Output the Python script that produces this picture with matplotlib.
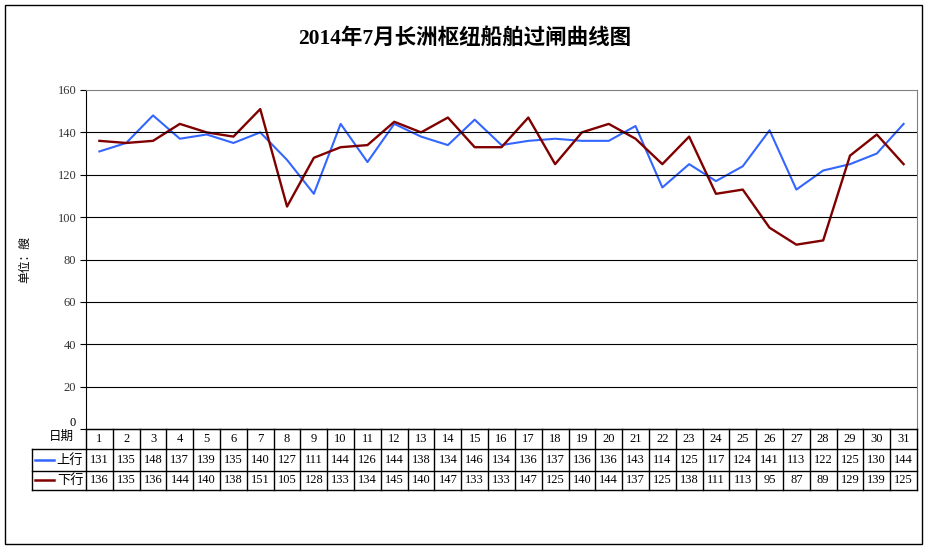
import numpy as np
import matplotlib.pyplot as plt

# data
days = list(range(1, 32))
up = [131, 135, 148, 137, 139, 135, 140, 127, 111, 144, 126, 144, 138, 134, 146, 134,
      136, 137, 136, 136, 143, 114, 125, 117, 124, 141, 113, 122, 125, 130, 144]
down = [136, 135, 136, 144, 140, 138, 151, 105, 128, 133, 134, 145, 140, 147, 133, 133,
        147, 125, 140, 144, 137, 125, 138, 111, 113, 95, 87, 89, 129, 139, 125]
series_names = ['上行', '下行']
colors = ['#3366FF', '#800000']

fonts = ['Liberation Serif', 'Noto Sans CJK SC']
plt.rcParams['font.family'] = fonts

W, H = 931, 550
fig = plt.figure(figsize=(W / 100, H / 100), dpi=100)

def fx(px):
    return px / W

def fy(py):
    return 1 - py / H

# outer border
fig.patches.append(plt.Rectangle((fx(5), fy(544)), fx(922) - fx(5), fy(5) - fy(544),
                                 transform=fig.transFigure, fill=False, lw=1.0, ec='black'))

# main plot
L, R, T, B = 86, 917, 90, 429
ax = fig.add_axes([fx(L), fy(B), fx(R) - fx(L), fy(T) - fy(B)])
x = np.array(days)
ax.plot(x, up, color=colors[0], lw=1.5)
ax.plot(x, down, color=colors[1], lw=1.7)
ax.set_xlim(0.5, 31.5)
ax.set_ylim(0, 160)
ax.set_yticks(range(0, 161, 20))
ax.set_yticklabels([''] + [str(v) for v in range(20, 161, 20)], fontsize=9, color='#333333')
ax.set_xticks([])
for v in range(20, 141, 20):
    ax.axhline(v, color='black', lw=0.8)
ax.spines['top'].set_color('#808080')
ax.spines['right'].set_color('#808080')
ax.spines['left'].set_color('black')
ax.spines['bottom'].set_color('black')
ax.tick_params(axis='y', direction='out', length=4, width=0.8, pad=3)
ax.text(-0.012, 0.0, '0', transform=ax.transAxes, ha='right', va='bottom', fontsize=9)

fig.text(fx(25), fy(260), '单位：艘', rotation=90, ha='center', va='center', fontsize=8.5)
fig.text(fx(465), fy(38), '2014年7月长洲枢纽船舶过闸曲线图', ha='center', va='center',
         fontsize=15.5, fontweight='bold')

# data table
rows = [429, 449, 471, 490]
tl = 32
tax = fig.add_axes([fx(L), fy(rows[-1]), fx(R) - fx(L), fy(rows[0]) - fy(rows[-1])])
tax.set_xlim(0.5, 31.5)
tax.set_ylim(rows[-1], rows[0])
tax.axis('off')
colw = (R - L) / 31
xleft = 0.5 - (L - tl) / colw
lk = dict(color='black', lw=1.0, clip_on=False)
# horizontal lines
tax.plot([0.5, 31.5], [rows[0], rows[0]], **lk)
for r in rows[1:]:
    tax.plot([xleft, 31.5], [r, r], **lk)
# vertical lines
for i in range(32):
    tax.plot([0.5 + i, 0.5 + i], [rows[0], rows[-1]], **lk)
tax.plot([xleft, xleft], [rows[1], rows[-1]], **lk)

for d in days:
    tax.text(d, (rows[0] + rows[1]) / 2, str(d), ha='center', va='center', fontsize=9)
    tax.text(d, (rows[1] + rows[2]) / 2, str(up[d - 1]), ha='center', va='center', fontsize=9)
    tax.text(d, (rows[2] + rows[3]) / 2, str(down[d - 1]), ha='center', va='center', fontsize=9)

tax.text(0.5 - 0.45, (rows[0] + rows[1]) / 2 - 2, '日期', ha='right', va='center', fontsize=9)
for k, name in enumerate(series_names):
    yc = (rows[k + 1] + rows[k + 2]) / 2
    x0 = xleft + 3 / colw
    x1 = xleft + 22 / colw
    tax.plot([x0, x1], [yc, yc], color=colors[k], lw=1.8, clip_on=False)
    tax.text(0.5 - 0.1, yc, name, ha='right', va='center', fontsize=9.5)

fig.savefig('out.png', dpi=100)
